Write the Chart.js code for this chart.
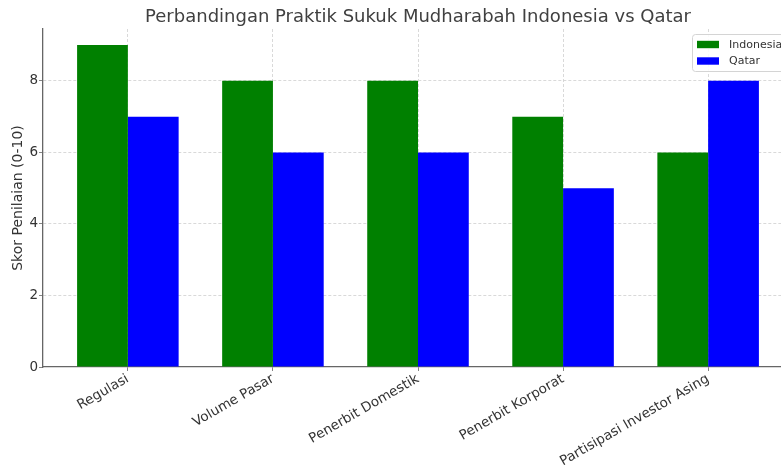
<!DOCTYPE html>
<html>
<head>
<meta charset="utf-8">
<script src="https://cdn.jsdelivr.net/npm/chart.js@4.4.1/dist/chart.umd.min.js"></script>
<style>
  html, body { margin: 0; padding: 0; background: #fff; }
  #wrap { width: 781px; height: 466px; overflow: hidden; position: relative; }
  canvas { display: block; }
</style>
</head>
<body>
<div id="wrap"><canvas id="chart" width="800" height="466"></canvas></div>
<script>
// data
var categories = ['Regulasi', 'Volume Pasar', 'Penerbit Domestik', 'Penerbit Korporat', 'Partisipasi Investor Asing'];
var indonesia = [9, 8, 8, 7, 6];
var qatar = [7, 6, 6, 5, 8];
var yTicks = [0, 2, 4, 6, 8];

var FONT = "'DejaVu Sans', sans-serif";
var TEXT = '#333333';
var SPINE = '#666666';
var GRID = '#cfcfcf';

function points(values) {
    return values.map(function (v, i) { return { x: i, y: v }; });
}

// title + legend drawn by hand so they sit where the original has them
var decorations = {
    id: 'decorations',
    afterDraw: function (chart) {
        var ctx = chart.ctx;
        var area = chart.chartArea;
        ctx.save();
        ctx.fillStyle = '#404040';
        ctx.font = '18px ' + FONT;
        ctx.textAlign = 'center';
        ctx.textBaseline = 'middle';
        ctx.fillText('Perbandingan Praktik Sukuk Mudharabah Indonesia vs Qatar', (area.left + area.right) / 2, 17);

        // legend box
        var bx = 692.5, by = 34.5, bw = 95, bh = 37;
        ctx.beginPath();
        ctx.roundRect(bx, by, bw, bh, 3);
        ctx.fillStyle = 'rgba(255,255,255,0.85)';
        ctx.fill();
        ctx.strokeStyle = '#d4d4d4';
        ctx.lineWidth = 1;
        ctx.stroke();

        var items = [
            { label: 'Indonesia', color: chart.data.datasets[0].backgroundColor, y: 44.5 },
            { label: 'Qatar', color: chart.data.datasets[1].backgroundColor, y: 61 }
        ];
        ctx.font = '11px ' + FONT;
        ctx.textAlign = 'left';
        items.forEach(function (it) {
            ctx.fillStyle = it.color;
            ctx.fillRect(697, it.y - 3.7, 22, 7.4);
            ctx.fillStyle = TEXT;
            ctx.fillText(it.label, 729, it.y + 0.5);
        });
        ctx.restore();
    }
};

var ctx = document.getElementById('chart').getContext('2d');
var chart = new Chart(ctx, {
    type: 'bar',
    data: {
        datasets: [{
            label: 'Indonesia',
            data: points(indonesia),
            backgroundColor: '#008000',
            borderWidth: 0
        }, {
            label: 'Qatar',
            data: points(qatar),
            backgroundColor: '#0000ff',
            borderWidth: 0
        }]
    },
    options: {
        responsive: false,
        animation: false,
        categoryPercentage: 0.7,
        barPercentage: 1.0,
        layout: { padding: { top: 29, right: 7, left: 0, bottom: 0 } },
        plugins: {
            legend: { display: false },
            tooltip: { enabled: false },
            title: { display: false }
        },
        scales: {
            x: {
                type: 'linear',
                offset: false,
                min: -0.585,
                max: 4.585,
                afterBuildTicks: function (scale) {
                    scale.ticks = categories.map(function (c, i) { return { value: i }; });
                },
                afterFit: function (scale) { scale.height = 99; },
                ticks: {
                    minRotation: 30,
                    maxRotation: 30,
                    autoSkip: false,
                    padding: 0,
                    color: TEXT,
                    font: { family: FONT, size: 13.5 },
                    callback: function (v) { return categories[v]; }
                },
                grid: {
                    offset: false,
                    color: GRID,
                    lineWidth: 0.8,
                    tickLength: 4,
                    tickColor: SPINE,
                    tickBorderDash: []
                },
                border: { display: true, color: SPINE, width: 1.3, dash: [3, 2] }
            },
            y: {
                min: 0,
                max: 9.45,
                afterBuildTicks: function (scale) {
                    scale.ticks = yTicks.map(function (v) { return { value: v }; });
                },
                afterFit: function (scale) { scale.width = 43; },
                ticks: {
                    padding: 1,
                    color: TEXT,
                    font: { family: FONT, size: 13.5 }
                },
                grid: {
                    color: function (c) { return c.tick && c.tick.value === 0 ? 'rgba(0,0,0,0)' : GRID; },
                    lineWidth: 0.8,
                    tickLength: 4,
                    tickColor: SPINE,
                    tickBorderDash: []
                },
                border: { display: true, color: SPINE, width: 1.3, dash: [3, 2] },
                title: {
                    display: true,
                    text: 'Skor Penilaian (0-10)',
                    color: TEXT,
                    font: { family: FONT, size: 14 },
                    padding: { top: 10, bottom: 0 }
                }
            }
        }
    },
    plugins: [decorations]
});
</script>
</body>
</html>
